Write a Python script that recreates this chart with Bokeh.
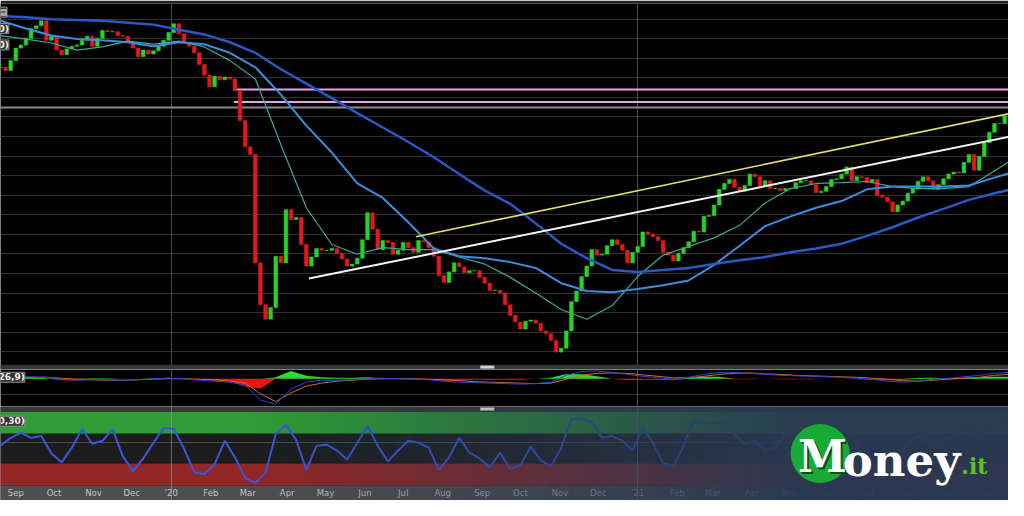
import numpy as np
import pandas as pd
from bokeh.plotting import figure
from bokeh.layouts import column
from bokeh.models import Range1d, Label
from bokeh.embed import file_html
from bokeh.resources import INLINE
from bokeh.core.properties import value

# ---------------- data ----------------
START = pd.Timestamp("2019-08-20")
END = pd.Timestamp("2021-10-19")

# closing prices, one reading every 4 calendar days
close = [
    13.27, 13.19, 13.44, 13.76, 13.84, 14.01, 14.26, 14.33, 14.46, 13.96,
    14.06, 13.71, 13.59, 13.74, 13.81, 13.84, 13.96, 14.06, 13.81, 14.01,
    14.21, 14.18, 14.18, 14.08, 14.06, 13.91, 13.76, 13.54, 13.71, 13.61,
    13.69, 13.81, 13.96, 14.16, 14.38, 14.13, 13.89, 13.81, 13.64, 13.34,
    13.07, 12.77, 13.04, 12.95, 13.02, 12.97, 12.67, 11.91, 11.24, 11.04,
    8.27, 7.20, 6.83, 7.13, 8.44, 8.27, 9.63, 9.38, 9.43, 8.74,
    8.19, 8.42, 8.64, 8.59, 8.59, 8.64, 8.51, 8.37, 8.19, 8.24,
    8.39, 8.86, 9.55, 9.13, 8.61, 8.84, 8.79, 8.49, 8.59, 8.79,
    8.66, 8.54, 8.84, 8.81, 8.66, 8.44, 7.95, 7.77, 8.04, 8.27,
    8.17, 8.02, 8.07, 8.07, 7.90, 7.75, 7.57, 7.57, 7.50, 7.20,
    6.93, 6.76, 6.58, 6.78, 6.81, 6.73, 6.53, 6.46, 6.29, 5.99,
    6.09, 6.53, 7.28, 7.55, 7.92, 8.19, 8.61, 8.47, 8.49, 8.71,
    8.86, 8.74, 8.59, 8.27, 8.54, 8.69, 9.06, 9.01, 8.94, 8.84,
    8.54, 8.47, 8.32, 8.51, 8.66, 8.81, 9.08, 9.06, 9.46, 9.48,
    9.75, 10.15, 10.30, 10.40, 10.20, 10.10, 10.25, 10.54, 10.47, 10.22,
    10.37, 10.17, 10.17, 10.12, 10.17, 10.17, 10.32, 10.37, 10.37, 10.27,
    10.07, 10.10, 10.22, 10.40, 10.42, 10.54, 10.72, 10.37, 10.47, 10.45,
    10.32, 10.40, 10.00, 9.95, 9.83, 9.58, 9.75, 9.85, 10.05, 10.17,
    10.35, 10.47, 10.37, 10.15, 10.27, 10.42, 10.54, 10.59, 10.57, 10.84,
    11.04, 10.64, 10.99, 11.34, 11.61, 11.83, 11.83, 12.03,
]
candle_dates = pd.date_range(START, periods=len(close), freq="4D")

# moving averages, one reading every 20 days
ma_dates = pd.date_range(START, periods=41, freq="20D")
ma_slow = [
    14.58, 14.55, 14.50, 14.48, 14.46, 14.41, 14.36, 14.23, 14.11, 13.91,
    13.64, 13.22, 12.85, 12.48, 12.10, 11.73, 11.36, 10.97, 10.54, 10.12,
    9.78, 9.28, 8.76, 8.39, 8.09, 8.04, 8.09, 8.14, 8.24, 8.34,
    8.42, 8.54, 8.64, 8.76, 8.96, 9.18, 9.43, 9.65, 9.88, 10.05, 10.20,
]
ma_mid = [
    14.46, 14.26, 14.08, 13.99, 13.96, 13.91, 13.81, 13.91, 13.86, 13.64,
    13.27, 12.57, 11.78, 11.09, 10.30, 9.93, 9.31, 8.64, 8.44, 8.39,
    8.29, 8.14, 7.75, 7.55, 7.52, 7.60, 7.70, 7.82, 8.22, 8.71,
    9.21, 9.46, 9.68, 9.85, 10.15, 10.22, 10.22, 10.22, 10.25, 10.45, 10.64,
]
ma_fast = [
    14.08, 13.99, 13.89, 13.71, 13.79, 13.94, 13.86, 13.94, 13.79, 13.44,
    12.97, 11.29, 9.68, 8.74, 8.49, 8.66, 8.61, 8.61, 8.42, 8.24,
    7.90, 7.50, 7.08, 6.83, 7.18, 7.92, 8.47, 8.69, 8.91, 9.23,
    9.80, 10.17, 10.30, 10.32, 10.35, 10.22, 10.17, 10.17, 10.22, 10.62, 11.04,
]

# drawn objects
yellow_dates = ["2020-07-11", "2021-10-19"]
yellow_prices = [8.94, 12.08]
white_dates = ["2020-04-18", "2021-10-19"]
white_prices = [7.87, 11.49]
gap_start = "2020-02-19"
gap_levels = [12.70, 12.38]
last_level = 12.24
year_starts = ["2020-01-01", "2021-01-01"]
price_grid = [6.0 + 0.5 * k for k in range(18)]

# MACD (12,26,9), one reading every 12 days
macd_dates = pd.date_range(START, periods=67, freq="12D")
macd = [
    0.06, 0.08, 0.08, 0.06, -0.02, -0.06, -0.04, -0.04, -0.06, -0.04,
    0.00, 0.02, 0.00, -0.06, -0.10, -0.14, -0.26, -0.88, -1.04, -0.42,
    -0.14, -0.06, -0.06, -0.04, 0.00, 0.02, 0.00, -0.02, -0.04, -0.10,
    -0.14, -0.16, -0.18, -0.20, -0.22, -0.20, -0.14, 0.14, 0.30, 0.32,
    0.26, 0.18, 0.10, 0.04, -0.02, 0.06, 0.18, 0.26, 0.26, 0.22,
    0.18, 0.14, 0.12, 0.10, 0.08, 0.06, 0.02, -0.02, -0.10, -0.14,
    -0.10, -0.02, 0.02, 0.08, 0.14, 0.22, 0.26,
]
macd_signal = [
    0.04, 0.06, 0.06, 0.06, 0.02, -0.02, -0.04, -0.06, -0.06, -0.04,
    -0.02, 0.00, 0.00, -0.02, -0.04, -0.10, -0.18, -0.62, -0.94, -0.58,
    -0.30, -0.18, -0.10, -0.06, -0.02, 0.00, 0.00, 0.00, -0.02, -0.04,
    -0.08, -0.12, -0.14, -0.16, -0.18, -0.20, -0.18, -0.02, 0.14, 0.22,
    0.24, 0.22, 0.16, 0.10, 0.04, 0.04, 0.10, 0.18, 0.22, 0.24,
    0.20, 0.18, 0.14, 0.12, 0.10, 0.08, 0.06, 0.02, -0.02, -0.08,
    -0.10, -0.06, -0.02, 0.02, 0.06, 0.14, 0.18,
]
macd_hist = [
    0.04, 0.06, 0.06, 0.02, -0.06, -0.06, 0.02, 0.02, 0.00, 0.00,
    0.02, 0.04, 0.00, -0.04, -0.08, -0.10, -0.32, -0.40, 0.06, 0.32,
    0.12, 0.06, 0.04, 0.04, 0.06, 0.02, 0.00, -0.02, -0.04, -0.08,
    -0.06, -0.04, -0.04, -0.04, -0.04, 0.00, 0.04, 0.20, 0.18, 0.10,
    0.00, -0.06, -0.04, -0.04, -0.06, 0.04, 0.08, 0.08, -0.02, -0.02,
    0.00, -0.02, -0.02, -0.02, 0.00, 0.00, -0.02, -0.04, -0.06, -0.06,
    0.04, 0.04, 0.02, 0.04, 0.06, 0.08, 0.08,
]

# RSI (...,70,30), one reading every 8 days
rsi_dates = pd.date_range(START, periods=100, freq="8D")
rsi = [
    53.9, 64.5, 71.1, 64.5, 67.1, 43.4, 31.6, 51.3, 76.3, 56.6,
    60.5, 76.3, 39.5, 19.7, 36.8, 57.9, 77.6, 76.3, 50.0, 18.4,
    15.8, 28.9, 60.5, 38.2, 10.5, 3.9, 17.1, 69.7, 81.6, 61.8,
    21.1, 53.9, 55.3, 47.4, 35.5, 57.9, 80.3, 53.9, 32.9, 47.4,
    60.5, 57.9, 51.3, 21.1, 38.2, 64.5, 44.7, 36.8, 25.0, 44.7,
    22.4, 27.6, 52.6, 34.2, 26.3, 51.3, 89.5, 90.8, 85.5, 64.5,
    67.1, 60.5, 47.4, 77.6, 57.9, 30.3, 26.3, 53.9, 88.2, 84.2,
    84.2, 85.5, 69.7, 55.3, 60.5, 47.4, 51.3, 69.7, 64.5, 43.4,
    38.2, 56.6, 64.5, 73.7, 53.9, 40.8, 27.6, 18.4, 40.8, 56.6,
    67.1, 59.2, 51.3, 64.5, 71.1, 80.3, 60.5, 80.3, 86.8, 90.8,
]
rsi_upper, rsi_lower = 70, 30

month_ticks = pd.date_range("2019-09-01", "2021-10-01", freq="MS")
month_labels = ["Sep", "Oct", "Nov", "Dec", "'20", "Feb", "Mar", "Apr", "May",
                "Jun", "Jul", "Aug", "Sep", "Oct", "Nov", "Dec", "'21", "Feb",
                "Mar", "Apr", "May", "Jun", "Jul", "Aug", "Sep", "Oct"]

# ---------------- helpers ----------------
DAY_MS = 24 * 3600 * 1000


def ms(t):
    return pd.Timestamp(t).value / 1e6


def day(n):
    return START + pd.Timedelta(days=n)


xr = Range1d(START, END)
W = 1008


def make_fig(h, y0, y1, top=0):
    p = figure(width=W, height=h, x_axis_type="datetime", x_range=xr,
               y_range=Range1d(y0, y1), x_axis_location=None,
               y_axis_location=None, output_backend="svg",
               toolbar_location=None, min_border_left=0, min_border_right=0,
               min_border_top=top, min_border_bottom=0,
               background_fill_color="black", border_fill_color="#242424",
               outline_line_color=None)
    p.grid.visible = False
    return p


def left_tag(p, y, text):
    p.add_layout(Label(x=ms(START), y=y, text=text, x_offset=-2,
                       text_font="DejaVu Sans", text_font_size="9px",
                       text_font_style="bold", text_color="#f2f2f2",
                       text_baseline="middle",
                       background_fill_color="#343434",
                       border_line_color="#8c8c8c"))


years = pd.to_datetime(year_starts)

# ---------------- price panel ----------------
P_TOP, P_BOT, SEP = 14.90, 5.545, 5.668
p1 = make_fig(369, P_BOT, P_TOP, top=3)
p1.hspan(y=price_grid, line_color="#303030", line_width=1)
p1.vspan(x=years, line_color="#4a4a4a", line_width=1)
p1.hspan(y=[last_level], line_color="#8a8a8a", line_width=2)
p1.segment(x0=pd.to_datetime([gap_start, gap_start]), y0=gap_levels,
           x1=[END, END], y1=gap_levels, line_color="#e3a6e6", line_width=2)

opens = [close[0]] + close[:-1]
cols = ["#25d425" if c >= o else "#e3191b" for c, o in zip(close, opens)]
p1.vbar(x=candle_dates, width=4 * DAY_MS * 0.7,
        top=np.maximum(opens, close), bottom=np.minimum(opens, close),
        fill_color=cols, line_color=cols, line_width=0.6)

p1.line(ma_dates, ma_fast, line_color="#3ea898", line_width=1.2)
p1.line(ma_dates, ma_mid, line_color="#3a8ede", line_width=2)
p1.line(ma_dates, ma_slow, line_color="#2a58c4", line_width=2.5)

p1.line(pd.to_datetime(yellow_dates), yellow_prices, line_color="#e2dc6e",
        line_width=1.6)
p1.line(pd.to_datetime(white_dates), white_prices, line_color="#f4f4f4",
        line_width=2)

p1.quad(left=[START], right=[END], bottom=[P_BOT], top=[SEP],
        fill_color="#353535", line_color=None)
p1.rect(x=[day(382)], y=[(P_BOT + SEP) / 2], width=14, height=3,
        width_units="screen", height_units="screen", fill_color="#d0d0d0",
        line_color=None)

left_tag(p1, 14.68, "▤")
left_tag(p1, 14.26, "0)")
left_tag(p1, 13.84, "0)")

# ---------------- MACD panel ----------------
p2 = make_fig(37, -1.14, 0.38)
p2.hspan(y=[-0.65], line_color="#303030", line_width=1)
p2.vspan(x=years, line_color="#4a4a4a", line_width=1)
h = np.array(macd_hist)
p2.varea(x=macd_dates, y1=0, y2=np.maximum(h, 0), fill_color="#2bdc2b")
p2.varea(x=macd_dates, y1=0, y2=np.minimum(h, 0), fill_color="#ee1212")
p2.line(macd_dates, macd_signal, line_color="#d0683c", line_width=1)
p2.line(macd_dates, macd, line_color="#3142d6", line_width=1)
left_tag(p2, 0.06, "26,9)")

# ---------------- RSI panel ----------------
R_TOP, R_BOT = 106.6, -19.7
p3 = make_fig(94, R_BOT, R_TOP)
p3.quad(left=[START] * 5, right=[END] * 5,
        bottom=[rsi_upper, rsi_lower, 0, R_BOT, 100],
        top=[100, rsi_upper, rsi_lower, 0, R_TOP],
        fill_color=["#2f9c35", "#1c1c1c", "#932626", "#4e4e4e", "#383838"],
        line_color=None)
p3.hspan(y=[58], line_color="#4a4a4a", line_width=1)
p3.vspan(x=years, line_color="#9a9a9a", line_width=1, line_alpha=0.6)
p3.line(rsi_dates, rsi, line_color="#3b55dc", line_width=2)
p3.text(x=month_ticks, y=[-9.2] * len(month_ticks), text=month_labels,
        text_font=value("DejaVu Sans"), text_font_size="8.5px",
        text_color="#c4c4c4", text_align="center", text_baseline="middle")

# banner gradient (watermark)
NPX = 1024
xs = np.arange(NPX) + 0.5
alpha = np.clip((xs - 250) / 560.0, 0, 1) * 0.97
img = np.empty((1, NPX), dtype=np.uint32)
v = img.view(dtype=np.uint8).reshape((1, NPX, 4))
v[..., 0] = 41
v[..., 1] = 57
v[..., 2] = 82
v[..., 3] = (alpha * 255).astype(np.uint8)
p3.image_rgba(image=[img], x=ms(START), y=R_BOT,
              dw=(END - START).total_seconds() * 1000, dh=R_TOP - R_BOT)

p3.rect(x=[day(382)], y=[103.3], width=14, height=3, width_units="screen",
        height_units="screen", fill_color="#bfbfbf", line_color=None)

# Money.it logo
p3.scatter(x=[day(643.2)], y=[43.4], size=59, marker="circle",
           fill_color="#19a935", line_color=None)
p3.text(x=[day(645.0)], y=[39.0], text=["M"], x_offset=2, y_offset=2,
        text_font=value("DejaVu Serif"), text_font_style="bold",
        text_font_size="44px", text_color="#0c4f1a", text_align="center",
        text_baseline="middle")
p3.text(x=[day(645.0)], y=[39.0], text=["M"],
        text_font=value("DejaVu Serif"), text_font_style="bold",
        text_font_size="44px", text_color="white", text_align="center",
        text_baseline="middle")
p3.text(x=[day(661.0)], y=[33.5], text=["oney"],
        text_font=value("DejaVu Serif"), text_font_style="bold",
        text_font_size="45px", text_color="white", text_align="left",
        text_baseline="middle")
p3.text(x=[day(754.0)], y=[27.0], text=[".it"],
        text_font=value("DejaVu Serif"), text_font_style="bold",
        text_font_size="22px", text_color="#5cc41f", text_align="left",
        text_baseline="middle")

left_tag(p3, 86.8, "0,30)")

layout = column(p1, p2, p3, spacing=0)
open("out.html", "w").write(file_html(layout, INLINE))
